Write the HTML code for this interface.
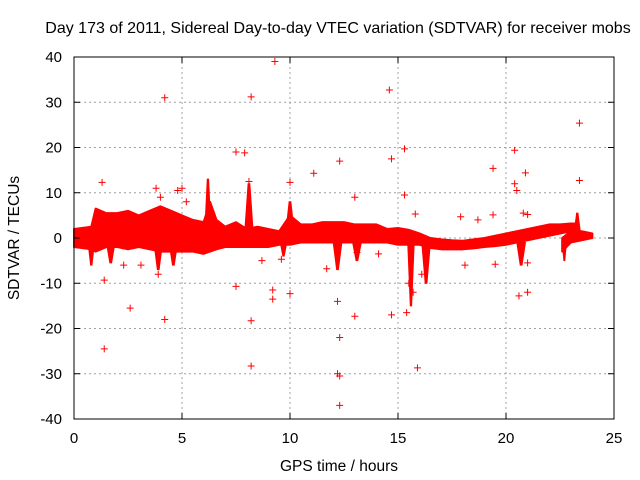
<!DOCTYPE html>
<html><head><meta charset="utf-8"><style>
body{margin:0;background:#fff}
svg{display:block;font-family:"Liberation Sans",sans-serif}
</style></head><body>
<svg id="c" width="640" height="480">
<rect x="0" y="0" width="640" height="480" fill="#fff"/>
<g id="grid"></g><g id="marks"></g><g id="axes"></g>
<text x="338" y="33" font-size="16" text-anchor="middle">Day 173 of 2011, Sidereal Day-to-day VTEC variation (SDTVAR) for receiver mobs</text>
<text x="339" y="471" font-size="15.5" text-anchor="middle">GPS time / hours</text>
<text transform="translate(19,238) rotate(-90)" font-size="15.5" text-anchor="middle">SDTVAR / TECUs</text>
</svg>
<script>
const xTicks=[0,5,10,15,20,25];
const yTicks=[-40,-30,-20,-10,0,10,20,30,40];
const bandHours=[0,0.8,1.0,1.5,2,2.5,3,3.5,4,4.5,5,5.5,6,6.3,6.6,7,7.5,8,8.5,9,9.5,10,10.5,11,11.5,12,12.5,13,13.5,14,14.5,15,15.5,16,16.5,17,17.5,18,18.5,19,19.5,20,20.5,21,21.5,22,22.5,23,23.3];
const bandUpper=[2,2.5,6.5,5.5,5.5,6,5,6,7,6,5,4,3.5,8,4,2.5,3.5,2,2.5,2,1.5,5,3,3,3.5,3.5,3.5,3,3,3,2,2.2,1.8,1,0,-0.3,-0.5,-0.6,-0.3,0,0.5,1,1.5,2,2.5,3,3,3.2,3.2];
const bandLower=[-2,-2.5,-3,-2,-2,-2.5,-2,-2.5,-3,-3,-3,-3,-3.5,-3,-2.5,-2,-2,-2,-2,-2,-1.5,-1.5,-1,-1,-1,-1,-1,-1,-1,-1,-1,-1.5,-1.5,-1.5,-2.2,-2.5,-2.5,-2.5,-2.3,-2,-1.8,-1.5,-1,-0.5,0,0.5,1,1.5,1.5];
const band2Hours=[22.6,23,23.5,24];
const band2Upper=[0,1.5,1.5,1];
const band2Lower=[-3,-1,-0.5,0];
const spikeHours=[0.8,1.7,3.9,4.6,6.2,8.1,9.7,10,12.2,13.1,15.6,16.3,20.7,23.3,22.7];
const spikeWidth=[0.15,0.2,0.2,0.2,0.15,0.2,0.15,0.2,0.2,0.2,0.15,0.2,0.2,0.15,0.1];
const spikeExtreme=[-6,-5.5,-7,-6,13,12,-4,8,-7,-5,-15,-10,-6,5.5,-5];
const outX=[1.3,1.4,1.4,2.6,4.2,4.2,3.9,3.8,4.8,7.5,7.9,8.1,8.2,8.2,8.2,9.3,9.2,9.2,10,10,8.7,7.5,11.1,12.3,12.2,12.3,12.2,12.3,12.3,13,13,14.6,14.7,14.7,15.3,15.3,15.8,15.9,15.4,19.4,19.5,18.1,20.4,20.4,20.5,20.9,20.8,21,20.6,21,23.4,23.4,17.9,18.7,19.4,14.1,11.7,13.1,2.3,3.1,4,5,5.2,9.6,21,15.5,15.7,16.1];
const outY=[12.3,-9.3,-24.5,-15.5,31,-18,-8,11,10.5,19,18.8,12.5,31.2,-18.3,-28.3,39,-11.5,-13.5,12.3,-12.3,-5,-10.7,14.3,17,-14,-22,-30,-30.5,-37,9,-17.3,32.7,17.5,-17,19.7,9.5,5.3,-28.7,-16.5,15.4,-5.8,-6,19.4,12,10.5,14.4,5.5,5.2,-12.8,-12,25.4,12.7,4.7,4,5.1,-3.5,-6.8,-3.2,-6,-6,9,11,8,-4.7,-5.5,-10,-12,-8];
const X0=74,X1=614,Y0=419,Y1=57;
const sx=h=>X0+(h-0)/25*(X1-X0);
const sy=v=>Y0-(v+40)/80*(Y0-Y1);
const NS='http://www.w3.org/2000/svg';
function mk(t,a,p){const e=document.createElementNS(NS,t);for(const k in a)e.setAttribute(k,a[k]);p.appendChild(e);return e;}
const grid=document.getElementById('grid'),axes=document.getElementById('axes'),marks=document.getElementById('marks');
xTicks.forEach(t=>{
 if(t>0&&t<25){const g=mk('line',{x1:sx(t),x2:sx(t),y1:Y1,y2:Y0,stroke:'#a0a0a0','stroke-dasharray':'2,3'},grid);
 }
 mk('line',{x1:sx(t),x2:sx(t),y1:Y0,y2:Y0-6,stroke:'#000'},axes);
 mk('line',{x1:sx(t),x2:sx(t),y1:Y1,y2:Y1+6,stroke:'#000'},axes);
 const tx=mk('text',{x:sx(t),y:443,'font-size':15,'text-anchor':'middle'},axes);tx.textContent=t;
 
});
yTicks.forEach(t=>{
 if(t>-40&&t<40){const g=mk('line',{x1:X0,x2:X1,y1:sy(t),y2:sy(t),stroke:'#a0a0a0','stroke-dasharray':'2,3'},grid);
 }
 mk('line',{x1:X0,x2:X0+6,y1:sy(t),y2:sy(t),stroke:'#000'},axes);
 mk('line',{x1:X1,x2:X1-6,y1:sy(t),y2:sy(t),stroke:'#000'},axes);
 const tx=mk('text',{x:62,y:sy(t)+5,'font-size':15,'text-anchor':'end'},axes);tx.textContent=t;
 
});
const fr=mk('rect',{x:X0,y:Y1,width:X1-X0,height:Y0-Y1,fill:'none',stroke:'#000'},axes);

function band(H,U,L,name){
 let pts=H.map((h,i)=>sx(h)+','+sy(U[i]));
 for(let i=H.length-1;i>=0;i--)pts.push(sx(H[i])+','+sy(L[i]));
 const p=mk('polygon',{points:pts.join(' '),fill:'#f00',stroke:'#f00','stroke-width':2,'stroke-linejoin':'round'},marks);
 
}
band(bandHours,bandUpper,bandLower,'dense-band');
band(band2Hours,band2Upper,band2Lower,'dense-band-late');
spikeHours.forEach((h,i)=>{
 const base=spikeExtreme[i]>0?1:-1;
 const pts=[sx(h-spikeWidth[i])+','+sy(base),sx(h+spikeWidth[i])+','+sy(base),sx(h+spikeWidth[i]*0.2)+','+sy(spikeExtreme[i]),sx(h-spikeWidth[i]*0.2)+','+sy(spikeExtreme[i])].join(' ');
 const p=mk('polygon',{points:pts,fill:'#f00',stroke:'#f00','stroke-width':1},marks);
 
});
outX.forEach((h,i)=>{
 const x=sx(h),y=sy(outY[i]);
 const p=mk('path',{d:`M${x-3.5},${y}H${x+3.5}M${x},${y-3.5}V${y+3.5}`,stroke:'#f00','stroke-width':1},marks);
 
});
</script>
</body></html>
